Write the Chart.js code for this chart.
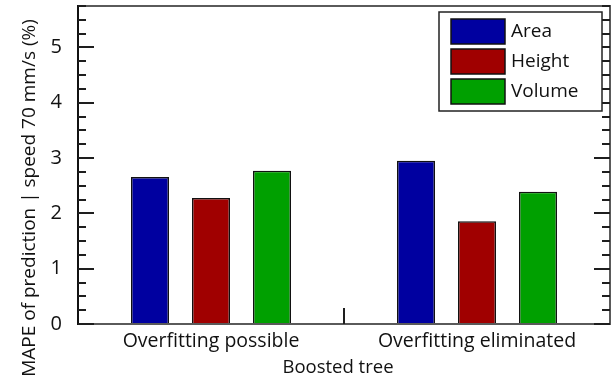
<!DOCTYPE html>
<html>
<head>
<meta charset="utf-8">
<script src="https://cdn.jsdelivr.net/npm/chart.js@4.4.1/dist/chart.umd.min.js"></script>
<style>
  html, body { margin: 0; padding: 0; background: #ffffff; }
  #wrap { width: 614px; height: 381px; }
</style>
</head>
<body>
<div id="wrap"><canvas id="c" width="614" height="381"></canvas></div>
<script>
// Boosted tree prediction error (MAPE, %) at 70 mm/s
const categories = ['Overfitting possible', 'Overfitting eliminated'];
const seriesNames = ['Area', 'Height', 'Volume'];
const areaValues = [2.66, 2.95];
const heightValues = [2.28, 1.86];
const volumeValues = [2.77, 2.39];
const seriesColors = ['#0000a0', '#a00000', '#00a000'];
const yTickValues = [0, 1, 2, 3, 4, 5];
const yMax = 5.75;
const minorStep = 0.25;
const xTitle = 'Boosted tree';
const yTitle = 'MAPE of prediction | speed 70 mm/s (%)';

const FONT = '"Open Sans", Lato, sans-serif';
const INK = '#111111';

// Frame, inward tick marks, category separator, axis titles and legend box
const decorations = {
  id: 'decorations',
  afterDatasetsDraw(chart) {
    const { ctx, chartArea: a, scales } = chart;
    const y = scales.y, x = scales.x;
    ctx.save();
    // frame
    ctx.lineWidth = 2;
    ctx.strokeStyle = '#5a5a5a';
    ctx.beginPath();
    ctx.moveTo(a.left, a.top); ctx.lineTo(a.right, a.top);
    ctx.lineTo(a.right, a.bottom); ctx.lineTo(a.left, a.bottom);
    ctx.stroke();
    ctx.strokeStyle = '#111111';
    ctx.beginPath();
    ctx.moveTo(a.left, a.top - 1); ctx.lineTo(a.left, a.bottom + 1);
    ctx.stroke();
    // inward ticks on left and right axes
    ctx.strokeStyle = '#1e1e1e';
    ctx.lineWidth = 2;
    for (let v = 0; v <= yMax + 1e-9; v += minorStep) {
      const py = Math.round(y.getPixelForValue(v));
      const major = Math.abs(v - Math.round(v)) < 1e-9;
      const len = major ? 16 : 8;
      ctx.beginPath();
      ctx.moveTo(a.left, py); ctx.lineTo(a.left + len, py);
      ctx.moveTo(a.right, py); ctx.lineTo(a.right - len, py);
      ctx.stroke();
    }
    // separator between the two groups
    const sx = Math.round((x.getPixelForValue(0) + x.getPixelForValue(1)) / 2);
    ctx.beginPath();
    ctx.moveTo(sx, a.bottom); ctx.lineTo(sx, a.bottom - 16);
    ctx.stroke();
    ctx.restore();
  },
  afterDraw(chart) {
    const { ctx, chartArea: a } = chart;
    ctx.save();
    ctx.fillStyle = INK;
    // x axis title
    ctx.font = '18.5px ' + FONT;
    ctx.textAlign = 'center';
    ctx.textBaseline = 'alphabetic';
    ctx.fillText(xTitle, 338, 373);
    // y axis title
    ctx.save();
    ctx.font = '19px ' + FONT;
    ctx.translate(35, 198);
    ctx.rotate(-Math.PI / 2);
    ctx.fillText(yTitle, 0, 0);
    ctx.restore();

    // legend
    const bx = a.right - 171, by = 12, bw = 163, bh = 99;
    ctx.fillStyle = '#ffffff';
    ctx.fillRect(bx, by, bw, bh);
    ctx.lineWidth = 1.5;
    ctx.strokeStyle = '#222222';
    ctx.strokeRect(bx, by, bw, bh);
    ctx.font = '19px ' + FONT;
    ctx.textAlign = 'left';
    ctx.textBaseline = 'middle';
    chart.data.datasets.forEach((ds, i) => {
      const sy = by + 7 + i * 30;
      ctx.fillStyle = ds.backgroundColor;
      ctx.fillRect(bx + 12, sy, 54, 25);
      ctx.strokeStyle = '#111111';
      ctx.lineWidth = 1.5;
      ctx.strokeRect(bx + 12, sy, 54, 25);
      ctx.fillStyle = INK;
      ctx.fillText(ds.label, bx + 72, sy + 13);
    });
    ctx.restore();
  }
};

const seriesValues = [areaValues, heightValues, volumeValues];

new Chart(document.getElementById('c'), {
  type: 'bar',
  data: {
    labels: categories,
    datasets: seriesNames.map((name, i) => ({
      label: name,
      data: seriesValues[i],
      backgroundColor: seriesColors[i],
      borderColor: '#111111',
      borderWidth: 1.5,
      borderSkipped: 'start',
      categoryPercentage: 0.688,
      barPercentage: 0.623
    }))
  },
  options: {
    responsive: false,
    animation: false,
    devicePixelRatio: 1,
    layout: { padding: { left: 0, right: 4, top: 6, bottom: 0 } },
    plugins: {
      legend: { display: false },
      tooltip: { enabled: false }
    },
    scales: {
      x: {
        grid: { display: false, drawTicks: false },
        border: { display: false },
        ticks: {
          color: INK,
          font: { family: FONT, size: 19.5 },
          padding: 6,
          maxRotation: 0,
          autoSkip: false
        },
        afterFit(scale) {
          scale.height = 57;
          scale.paddingLeft = 0; scale.paddingRight = 0;
        }
      },
      y: {
        min: 0,
        max: yMax,
        grid: { display: false, drawTicks: false },
        border: { display: false },
        afterBuildTicks(scale) {
          scale.ticks = yTickValues.map(v => ({ value: v }));
        },
        ticks: {
          color: INK,
          font: { family: FONT, size: 20 },
          padding: 16
        },
        afterFit(scale) {
          scale.width = 78;
          scale.paddingTop = 0; scale.paddingBottom = 0;
        }
      }
    }
  },
  plugins: [decorations]
});
</script>
</body>
</html>
